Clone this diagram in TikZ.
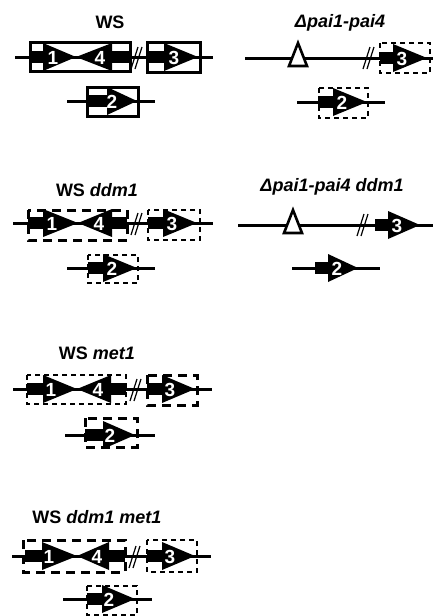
\documentclass[tikz,border=0pt]{standalone}
\usepackage{fontspec}
\setmainfont{Liberation Sans}
\begin{document}
\begin{tikzpicture}[x=1pt,y=-1pt,
  chrom/.style={line width=3pt},
  solidbox/.style={line width=3pt},
  thinbox/.style={line width=1.6pt,dash pattern=on 5pt off 4pt},
  thickbox/.style={line width=3pt,dash pattern=on 9pt off 6pt},
  brk/.style={line width=1.2pt},
  title/.style={font=\fontsize{18}{21}\selectfont\bfseries},
  num/.style={text=white,font=\fontsize{19}{21}\selectfont\bfseries,inner sep=0pt}
]
\useasboundingbox (0,0) rectangle (438,616);
% right-pointing gene: bar start, triangle base, apex, y
\newcommand\genR[4]{\fill (#1,#4-6) rectangle (#2,#4+6);
  \fill (#2,#4-14) -- (#3,#4) -- (#2,#4+14) -- cycle;}
% left-pointing gene: apex, triangle base, bar end, y
\newcommand\genL[4]{\fill (#2,#4-6) rectangle (#3,#4+6);
  \fill (#2,#4-14) -- (#1,#4) -- (#2,#4+14) -- cycle;}
\newcommand\brkmark[2]{\draw[brk] (#1-5,#2+11) -- (#1+2,#2-11);
  \draw[brk] (#1-1,#2+11) -- (#1+6,#2-11);}
\newcommand\deltamark[2]{\draw[line width=2.6pt,fill=white,line join=miter] (#1,#2-13) -- (#1+9,#2+10) -- (#1-9,#2+10) -- cycle;}

% ===== Panel 1: WS =====
\node[title] (t1) at (110,22) {WS};
\draw[chrom] (15,57) -- (213,57);
\genR{30}{43}{76}{57}
\genL{76}{112}{130}{57}
\brkmark{136}{58}
\genR{147}{164}{198}{57}
\node[num] (n1a) at (53,58) {1};
\node[num] (n1d) at (100,58) {4};
\node[num] (n1c) at (174,58) {3};
\draw[solidbox] (30,42) rectangle (130,71);
\draw[solidbox] (147,42) rectangle (200,72);
\draw[chrom] (67,101) -- (155,101);
\genR{87}{107}{137}{101}
\node[num] (n1b) at (112,102) {2};
\draw[solidbox] (87,87) rectangle (138,116);

% ===== Panel 2: Delta pai1-pai4 =====
\node[title] (t2) at (340,23) {\itshape Δpai1-pai4};
\draw[chrom] (245,58) -- (433,58);
\deltamark{298}{56}
\brkmark{368}{58}
\genR{380}{393}{427}{58}
\node[num] (n2c) at (402,59) {3};
\draw[thinbox] (380,43) rectangle (430,73);
\draw[chrom] (297,102) -- (385,102);
\genR{318}{333}{367}{102}
\node[num] (n2b) at (342,103) {2};
\draw[thinbox] (319,88) rectangle (368,118);

% ===== Panel 3: WS ddm1 =====
\node[title] (t3) at (97,190) {WS \itshape ddm1};
\draw[chrom] (13,223) -- (213,223);
\genR{28}{43}{78}{223}
\genL{78}{112}{127}{223}
\brkmark{136}{224}
\genR{148}{163}{197}{223}
\node[num] (n3a) at (52,224) {1};
\node[num] (n3d) at (99,224) {4};
\node[num] (n3c) at (172,224) {3};
\draw[thickbox] (28,210) rectangle (127,240);
\draw[thinbox] (148,210) rectangle (200,240);
\draw[chrom] (67,268) -- (155,268);
\genR{88}{103}{137}{268}
\node[num] (n3b) at (112,269) {2};
\draw[thinbox] (88,255) rectangle (138,283);

% ===== Panel 4: Delta pai1-pai4 ddm1 =====
\node[title] (t4) at (332,187) {\itshape Δpai1-pai4 ddm1};
\draw[chrom] (238,225) -- (433,225);
\deltamark{293}{223}
\brkmark{362}{225}
\genR{375}{388}{420}{225}
\node[num] (n4c) at (397,226) {3};
\draw[chrom] (292,268) -- (380,268);
\genR{315}{328}{358}{268}
\node[num] (n4b) at (337,269) {2};

% ===== Panel 5: WS met1 =====
\node[title] (t5) at (97,353) {WS \itshape met1};
\draw[chrom] (13,389) -- (212,389);
\genR{27}{43}{77}{389}
\genL{77}{111}{126}{389}
\brkmark{135}{390}
\genR{147}{162}{195}{389}
\node[num] (n5a) at (51,390) {1};
\node[num] (n5d) at (98,390) {4};
\node[num] (n5c) at (170,390) {3};
\draw[thinbox] (27,375) rectangle (126,404);
\draw[thickbox] (147,375) rectangle (197,405);
\draw[chrom] (65,435) -- (155,435);
\genR{85}{103}{135}{435}
\node[num] (n5b) at (110,436) {2};
\draw[thickbox] (85,418) rectangle (137,447);

% ===== Panel 6: WS ddm1 met1 =====
\node[title] (t6) at (97,517) {WS \itshape ddm1 met1};
\draw[chrom] (12,556) -- (211,556);
\genR{25}{42}{77}{556}
\genL{77}{109}{125}{556}
\brkmark{134}{557}
\genR{147}{162}{195}{556}
\node[num] (n6a) at (49,557) {1};
\node[num] (n6d) at (97,557) {4};
\node[num] (n6c) at (170,557) {3};
\draw[thickbox] (23,540) rectangle (125,572);
\draw[thinbox] (147,540) rectangle (197,572);
\draw[chrom] (63,599) -- (152,599);
\genR{87}{102}{135}{599}
\node[num] (n6b) at (109,600) {2};
\draw[thinbox] (87,586) rectangle (137,615);
\end{tikzpicture}
\end{document}
